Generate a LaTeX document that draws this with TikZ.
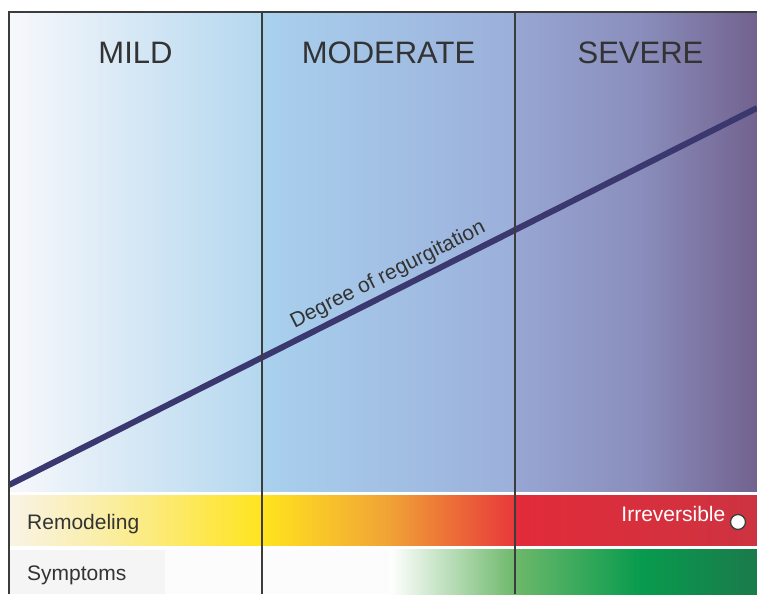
\documentclass[tikz,border=0pt]{standalone}
\usepackage{fontspec}
\setmainfont{Liberation Sans}
\usetikzlibrary{calc}

\definecolor{framegray}{HTML}{3C3C3C}
\definecolor{textgray}{HTML}{333333}
\definecolor{regline}{HTML}{3B3870}
% grade panel
\definecolor{mildA}{HTML}{F7F8FB}
\definecolor{mildB}{HTML}{B4D7EF}
\definecolor{modA}{HTML}{A9D1EE}
\definecolor{modB}{HTML}{9BAFDA}
\definecolor{sevA}{HTML}{98A6D3}
\definecolor{sevB}{HTML}{8A8EBC}
\definecolor{sevC}{HTML}{72628F}
% remodeling band
\definecolor{remA}{HTML}{F9F3E6}
\definecolor{remB}{HTML}{FAEEA8}
\definecolor{remC}{HTML}{FFE41E}
\definecolor{remD}{HTML}{F0A236}
\definecolor{remE}{HTML}{E8383A}
\definecolor{remF}{HTML}{E22B3A}
\definecolor{remG}{HTML}{CD3340}
% symptoms band
\definecolor{symA}{HTML}{F5F5F5}
\definecolor{symB}{HTML}{FCFCFC}
\definecolor{symC}{HTML}{6DB86A}
\definecolor{symD}{HTML}{089B4E}
\definecolor{symE}{HTML}{1B7A4B}

\begin{document}
\begin{tikzpicture}[x=1pt, y=1pt,
  grade/.style={text=textgray, font=\fontsize{31}{36}\selectfont},
  rowlabel/.style={text=textgray, font=\fontsize{21}{25}\selectfont, anchor=base west, inner sep=0pt},
  divider/.style={draw=framegray, line width=1.5pt}]
\useasboundingbox (0,0) rectangle (757,594);

% grade panel
\shade [left color=mildA, right color=mildB] (9,102) rectangle (262.5,582);
\shade [left color=modA, right color=modB] (262,102) rectangle (515.5,582);
\shade [left color=sevA, right color=sevB] (515,102) rectangle (640.5,582);
\shade [left color=sevB, right color=sevC] (640,102) rectangle (757,582);

% remodeling band
\shade [left color=remA, right color=remB] (9,48) rectangle (100.5,98);
\shade [left color=remB, right color=remC] (100,48) rectangle (262.5,98);
\shade [left color=remC, right color=remD] (262,48) rectangle (390.5,98);
\shade [left color=remD, right color=remE] (390,48) rectangle (515.5,98);
\shade [left color=remF, right color=remG] (515,48) rectangle (757,98);

% symptoms band
\fill [symA] (9,0) rectangle (165.5,44);
\fill [symB] (165,0) rectangle (390.5,44);
\shade [left color=white, right color=symC] (390,0) rectangle (515.5,44);
\shade [left color=symC, right color=symD] (515,0) rectangle (640.5,44);
\shade [left color=symD, right color=symE] (640,0) rectangle (757,44);

% degree of regurgitation
\coordinate (low) at (9,109);
\coordinate (high) at (757,486);
\begin{scope}
\clip (9,102) rectangle (757,582);
\draw [regline, line width=6pt] (low) -- (high)
  node [pos=0.517, sloped, above, inner sep=4pt, text=textgray,
        font=\fontsize{21}{25}\selectfont] (degree) {Degree of regurgitation};
\end{scope}

% frame and grade dividers
\draw [divider] (757,582) -- (9,582) -- (9,0);
\draw [divider] (262,582) -- (262,0);
\draw [divider] (515,582) -- (515,0);

\node [grade] (mild) at (135.5,541.5) {MILD};
\node [grade] (moderate) at (388.5,541.5) {MODERATE};
\node [grade] (severe) at (640.5,541.5) {SEVERE};

\node [rowlabel] (remodeling) at (27,64) {Remodeling};
\node [rowlabel] (symptoms) at (27,14) {Symptoms};
\node [rowlabel, anchor=base east, text=white] (irreversible) at (725.5,72.5) {Irreversible};
\node [draw=framegray, fill=white, circle, line width=1.3pt, minimum size=15pt, inner sep=0pt] (irrdot) at (738,72) {};
\end{tikzpicture}
\end{document}
